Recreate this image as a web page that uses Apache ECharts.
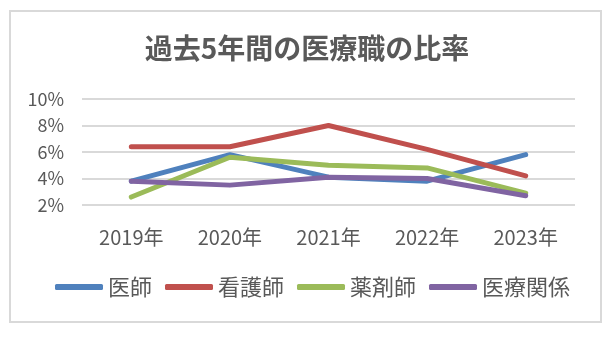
<!DOCTYPE html>
<html>
<head>
<meta charset="utf-8">
<script src="https://cdn.jsdelivr.net/npm/echarts@6/dist/echarts.min.js"></script>
<style>
  html, body { margin: 0; padding: 0; background: #ffffff; }
  #chart { width: 614px; height: 337px; }
</style>
</head>
<body>
<div id="chart"></div>
<script>
// Share of each medical profession over the last five years (percent)
const years = ['2019年', '2020年', '2021年', '2022年', '2023年'];
const doctors = [3.8, 5.8, 4.1, 3.8, 5.8];      // 医師
const nurses = [6.4, 6.4, 8.0, 6.2, 4.2];       // 看護師
const pharmacists = [2.6, 5.6, 5.0, 4.8, 2.9];  // 薬剤師
const medicalRelated = [3.8, 3.5, 4.1, 4.0, 2.7]; // 医療関係

const yTicks = { min: 2, max: 10, step: 2 };

const FONT = '"Noto Sans CJK JP", "Noto Sans", sans-serif';
const TEXT_GRAY = '#595959';

function lineSeries(name, data, color) {
  return {
    name: name,
    type: 'line',
    data: data,
    symbol: 'none',
    smooth: false,
    color: color,
    lineStyle: { width: 5, color: color, cap: 'round', join: 'round' }
  };
}

const chart = echarts.init(document.getElementById('chart'), null, { renderer: 'canvas' });

chart.setOption({
  backgroundColor: '#ffffff',
  animation: false,
  textStyle: { fontFamily: FONT },
  graphic: [{
    type: 'rect',
    shape: { x: 10, y: 11, width: 591, height: 311 },
    style: { fill: 'none', stroke: '#d9d9d9', lineWidth: 2 },
    silent: true
  }],
  title: {
    text: '過去5年間の医療職の比率',
    left: 'center',
    top: 34,
    padding: 0,
    textStyle: { fontFamily: FONT, fontSize: 28, fontWeight: 'bold', color: TEXT_GRAY }
  },
  grid: { left: 82, right: 39, top: 99, bottom: 132, containLabel: false },
  xAxis: {
    type: 'category',
    data: years,
    boundaryGap: true,
    axisLine: { show: false },
    axisTick: { show: false },
    axisLabel: { color: TEXT_GRAY, fontSize: 20, fontFamily: FONT, margin: 22 }
  },
  yAxis: {
    type: 'value',
    min: yTicks.min,
    max: yTicks.max,
    interval: yTicks.step,
    axisLine: { show: false },
    axisTick: { show: false },
    axisLabel: { color: TEXT_GRAY, fontSize: 18, fontFamily: FONT, margin: 18, formatter: '{value}%' },
    splitLine: { lineStyle: { color: '#d9d9d9', width: 2 } }
  },
  legend: {
    left: 55,
    top: 276,
    padding: 0,
    icon: 'roundRect',
    itemWidth: 48,
    itemHeight: 6,
    itemGap: 13,
    textStyle: { color: TEXT_GRAY, fontSize: 22, fontFamily: FONT, padding: [0, 0, 0, 0] },
    data: ['医師', '看護師', '薬剤師', '医療関係']
  },
  series: [
    lineSeries('医師', doctors, '#4F81BD'),
    lineSeries('看護師', nurses, '#C0504D'),
    lineSeries('薬剤師', pharmacists, '#9BBB59'),
    lineSeries('医療関係', medicalRelated, '#8064A2')
  ]
});
</script>
</body>
</html>
